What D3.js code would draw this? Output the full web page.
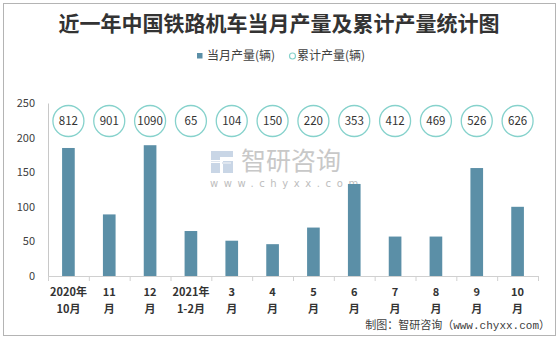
<!DOCTYPE html>
<html>
<head>
<meta charset="utf-8">
<script src="https://cdn.jsdelivr.net/npm/d3@7/dist/d3.min.js"></script>
<style>
  html, body { margin: 0; padding: 0; background: #fff; }
  svg { display: block; }
</style>
</head>
<body>
<svg id="chart" width="560" height="337"></svg>
<script>
// Monthly output of railway locomotives and year-to-date totals
const categories = ["2020年|10月", "11|月", "12|月", "2021年|1-2月", "3|月", "4|月",
                    "5|月", "6|月", "7|月", "8|月", "9|月", "10|月"];
const monthly = [185, 89, 189, 65, 51, 46, 70, 133, 57, 57, 156, 100];
const cumulative = [812, 901, 1090, 65, 104, 150, 220, 353, 412, 469, 526, 626];
const yTicks = [0, 50, 100, 150, 200, 250];

const FONT = "'Noto Sans CJK SC', 'Microsoft YaHei', sans-serif";
const BAR = "#5b8fa7";
const RING = "#86d2cc";

const svg = d3.select("#chart");

// outer frame
svg.append("rect").attr("x", 3.5).attr("y", 3.5).attr("width", 552).attr("height", 332)
  .attr("fill", "#fff").attr("stroke", "#b4b4b4").attr("stroke-width", 1);

// title
svg.append("text").attr("x", 279).attr("y", 31).attr("text-anchor", "middle")
  .attr("font-family", "'Noto Sans CJK SC', serif").attr("font-weight", "bold")
  .attr("font-size", 21).attr("fill", "#333").text("近一年中国铁路机车当月产量及累计产量统计图");

// legend
const lg = svg.append("g").attr("font-family", FONT).attr("font-size", 12).attr("fill", "#404040");
lg.append("rect").attr("x", 197).attr("y", 53).attr("width", 5.5).attr("height", 5.5).attr("fill", BAR);
lg.append("text").attr("x", 207).attr("y", 60).text("当月产量(辆)");
lg.append("circle").attr("cx", 292.5).attr("cy", 56).attr("r", 3).attr("fill", "#fff")
  .attr("stroke", RING).attr("stroke-width", 1.2);
lg.append("text").attr("x", 297).attr("y", 60).text("累计产量(辆)");

// watermark
const wm = svg.append("g");
wm.append("path")
  .attr("d", "M211,151 h22 v6 h-13 v3 h-9 z M211,163 h9 v10 h-9 z M223,161 h10 v12 h-10 z")
  .attr("fill", "#c9d6e6");
wm.append("path").attr("d", "M222,162 h9 v2 h-9 z M211,161 h9 v1 h-9 z").attr("fill", "#dfe6ef");
wm.append("text").attr("x", 241).attr("y", 170).attr("font-family", FONT).attr("font-size", 25)
  .attr("fill", "#c8c8c8").text("智研咨询");
wm.append("text").attr("x", 210).attr("y", 187).attr("font-family", "'DejaVu Sans', sans-serif")
  .attr("font-size", 10).attr("fill", "#bdbdbd").attr("letter-spacing", 5.6).text("www.chyxx.com");

// scales
const x = d3.scaleBand().domain(categories).range([48, 538]).padding(0);
const y = d3.scaleLinear().domain([0, 250]).range([276, 103]);
const barW = x.bandwidth() * 0.31;

// y axis
const yAxis = svg.append("g").attr("transform", "translate(48,0)")
  .call(d3.axisLeft(y).tickValues(yTicks).tickSize(0).tickPadding(13));
yAxis.select(".domain").attr("stroke", "#c8c8c8");
yAxis.selectAll("text").attr("font-family", FONT).attr("font-size", 11).attr("fill", "#404040");

// x axis
const xAxis = svg.append("g").attr("transform", "translate(0,276)")
  .call(d3.axisBottom(x).tickSize(0).tickFormat(""));
xAxis.select(".domain").attr("stroke", "#d0d0d0");
xAxis.selectAll(".tick").remove();
const bounds = categories.map(c => x(c)).concat([x.range()[1]]);
svg.append("g").selectAll("line").data(bounds).join("line")
  .attr("x1", d => d + 0.5).attr("x2", d => d + 0.5).attr("y1", 276).attr("y2", 281)
  .attr("stroke", "#d0d0d0");

const xl = svg.append("g").attr("font-family", FONT).attr("font-size", 11)
  .attr("font-weight", "bold").attr("fill", "#333").attr("text-anchor", "middle");
categories.forEach(c => {
  const [l1, l2] = c.split("|");
  const cx = x(c) + x.bandwidth() / 2;
  xl.append("text").attr("x", cx).attr("y", 296).text(l1);
  xl.append("text").attr("x", cx).attr("y", 312.5).text(l2);
});

// bars
svg.append("g").selectAll("rect").data(monthly).join("rect")
  .attr("x", (d, i) => x(categories[i]) + (x.bandwidth() - barW) / 2)
  .attr("y", d => y(d)).attr("width", barW).attr("height", d => y(0) - y(d))
  .attr("fill", BAR);

// cumulative value rings
const rings = svg.append("g").selectAll("g").data(cumulative).join("g")
  .attr("transform", (d, i) => `translate(${x(categories[i]) + x.bandwidth() / 2},121)`);
rings.append("circle").attr("r", 15.5).attr("fill", "#fff").attr("stroke", RING).attr("stroke-width", 1.3);
rings.append("text").attr("text-anchor", "middle").attr("dy", "0.36em")
  .attr("font-family", FONT).attr("font-size", 11.5).attr("fill", "#333").text(d => d);

// source note
const src = svg.append("text").attr("x", 550).attr("y", 329).attr("text-anchor", "end")
  .attr("font-family", FONT).attr("font-size", 11).attr("fill", "#404040");
src.append("tspan").text("制图：智研咨询（");
src.append("tspan").attr("font-family", "'Liberation Mono', monospace").text("www.chyxx.com");
src.append("tspan").text("）");
</script>
</body>
</html>
